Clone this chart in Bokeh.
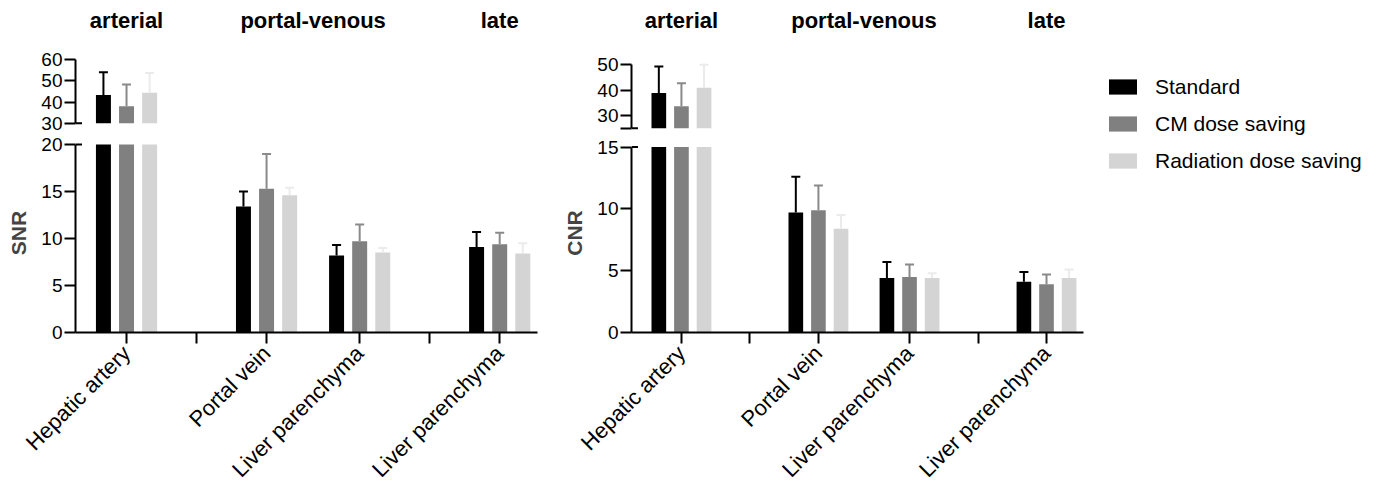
import math
from bokeh.plotting import figure
from bokeh.models import Range1d, FixedTicker, Legend, LegendItem
from bokeh.layouts import row, column
from bokeh.embed import file_html
from bokeh.resources import INLINE
from bokeh.core.properties import value

# ---------------- data ----------------
categories = ["Hepatic artery", "Portal vein", "Liver parenchyma", "Liver parenchyma"]
phases = ["arterial", "portal-venous", "late"]
phase_of_category = [0, 1, 1, 2]
series_names = ["Standard", "CM dose saving", "Radiation dose saving"]

snr_standard = [43.4, 13.4, 8.2, 9.1]
snr_standard_sd = [10.7, 1.6, 1.1, 1.6]
snr_cm = [38.0, 15.3, 9.7, 9.4]
snr_cm_sd = [10.3, 3.7, 1.8, 1.2]
snr_radiation = [44.4, 14.6, 8.5, 8.4]
snr_radiation_sd = [9.4, 0.8, 0.5, 1.1]

cnr_standard = [38.9, 9.7, 4.4, 4.1]
cnr_standard_sd = [10.4, 2.9, 1.3, 0.8]
cnr_cm = [33.6, 9.9, 4.5, 3.9]
cnr_cm_sd = [9.1, 2.0, 1.0, 0.8]
cnr_radiation = [40.9, 8.4, 4.4, 4.4]
cnr_radiation_sd = [9.1, 1.1, 0.4, 0.7]

snr_lower_ticks = [0, 5, 10, 15, 20]
snr_upper_ticks = [30, 40, 50, 60]
cnr_lower_ticks = [0, 5, 10, 15]
cnr_upper_ticks = [25, 30, 40, 50]
cnr_unlabeled_ticks = [25]

# ---------------- layout / style ----------------
FONT = "Liberation Sans"
BAR_COLORS = ["#000000", "#808080", "#d4d4d4"]
ERR_COLORS = ["#000000", "#8a8a8a", "#ebebeb"]
CAT_POS = [0.0, 2.0, 3.33, 5.33]
SEP_POS = [1.0, 4.33]
X_START, X_END = -0.729, 5.87
OFFSETS = [-0.33, 0.0, 0.33]
BAR_W = 0.214
TOP_H = 133
BOT_H = 361
BOT_FRAME = 199


def style_yaxis(ax):
    ax.axis_line_width = 2
    ax.axis_line_color = "black"
    ax.major_tick_line_width = 2
    ax.major_tick_line_color = "black"
    ax.major_tick_out = 11
    ax.major_tick_in = 0
    ax.minor_tick_line_color = None
    ax.major_label_standoff = 2
    ax.major_label_text_font = FONT
    ax.major_label_text_font_size = "19px"
    ax.major_label_text_color = "black"


def make_panel(label, series, sds, lower_ticks, upper_ticks, lower_hi, upper_lo, upper_hi,
               lower_ppu, upper_ppu, upper_top_px, width, left, right, unlabeled=()):
    frame_w = width - left - right
    ppx = frame_w / (X_END - X_START)

    # upper (broken) segment
    t_end = upper_hi + upper_top_px / upper_ppu
    t_start = t_end - TOP_H / upper_ppu
    top = figure(width=width, height=TOP_H, x_range=Range1d(X_START, X_END),
                 y_range=Range1d(t_start, t_end), x_axis_type=None,
                 toolbar_location=None, output_backend="svg",
                 min_border_left=left, min_border_right=right,
                 min_border_top=0, min_border_bottom=0, outline_line_color=None)
    top.ygrid.grid_line_color = None
    style_yaxis(top.yaxis[0])
    top.yaxis[0].ticker = FixedTicker(ticks=upper_ticks)
    top.yaxis[0].bounds = (upper_lo, upper_hi)
    if unlabeled:
        top.yaxis[0].major_label_overrides = {t: " " for t in unlabeled}

    # lower segment
    b_end = BOT_FRAME / lower_ppu
    bot = figure(width=width, height=BOT_H, x_range=Range1d(X_START, X_END),
                 y_range=Range1d(0, b_end), toolbar_location=None, output_backend="svg",
                 min_border_left=left, min_border_right=right,
                 min_border_top=0, min_border_bottom=BOT_H - BOT_FRAME,
                 outline_line_color=None)
    bot.xgrid.grid_line_color = None
    bot.ygrid.grid_line_color = None
    ya = bot.yaxis[0]
    style_yaxis(ya)
    ya.ticker = FixedTicker(ticks=lower_ticks)
    ya.bounds = (0, lower_hi)
    ya.axis_label = label
    ya.axis_label_text_font = FONT
    ya.axis_label_text_font_style = "bold"
    ya.axis_label_text_font_size = "21px"
    ya.axis_label_standoff = 8

    xa = bot.xaxis[0]
    xa.ticker = FixedTicker(ticks=CAT_POS + SEP_POS)
    overrides = {p: c for p, c in zip(CAT_POS, categories)}
    overrides.update({p: " " for p in SEP_POS})
    xa.major_label_overrides = overrides
    xa.axis_line_width = 2
    xa.major_tick_line_width = 2
    xa.major_tick_out = 11
    xa.major_tick_in = 0
    xa.minor_tick_line_color = None
    xa.major_label_orientation = math.pi / 4
    xa.major_label_standoff = 6
    xa.major_label_text_font = FONT
    xa.major_label_text_font_size = "22px"
    xa.major_label_text_color = "black"

    segments = [(bot, 0.0, lower_hi), (top, upper_lo, upper_hi)]
    for s in range(3):
        vals, err = series[s], sds[s]
        for fig, lo, hi in segments:
            bx, bb, bt, ex, e0, e1 = [], [], [], [], [], []
            for i, v in enumerate(vals):
                x = CAT_POS[i] + OFFSETS[s]
                if v > lo:
                    bx.append(x); bb.append(lo); bt.append(min(v, hi))
                if lo < v <= hi:
                    ex.append(x); e0.append(v); e1.append(v + err[i])
            if bx:
                fig.vbar(x=bx, bottom=bb, top=bt, width=BAR_W,
                         fill_color=BAR_COLORS[s], line_color=None)
            if ex:
                fig.segment(x0=ex, y0=e0, x1=ex, y1=e1, line_color=ERR_COLORS[s], line_width=2)
                fig.scatter(x=ex, y=e1, marker="dash", size=9,
                            line_color=ERR_COLORS[s], line_width=2)

    # break caps on the y axis
    cap = 6.5 / ppx
    bot.segment(x0=[X_START], y0=[lower_hi], x1=[X_START + cap], y1=[lower_hi],
                line_color="black", line_width=2)
    top.segment(x0=[X_START], y0=[upper_lo], x1=[X_START + cap], y1=[upper_lo],
                line_color="black", line_width=2)

    # phase titles
    px, py = [], []
    for k in range(len(phases)):
        members = [CAT_POS[i] for i in range(len(categories)) if phase_of_category[i] == k]
        px.append(sum(members) / len(members))
        py.append(t_end - 20 / upper_ppu)
    top.text(x=px, y=py, text=phases, text_font=value(FONT), text_font_style="bold",
             text_font_size="22px", text_align="center", text_baseline="middle",
             text_color="black")
    return column(top, bot)


snr_panel = make_panel("SNR", [snr_standard, snr_cm, snr_radiation],
                       [snr_standard_sd, snr_cm_sd, snr_radiation_sd],
                       snr_lower_ticks, snr_upper_ticks, 20, 30, 60,
                       9.4, 2.113, 59.3, 560, 75, 23)
cnr_panel = make_panel("CNR", [cnr_standard, cnr_cm, cnr_radiation],
                       [cnr_standard_sd, cnr_cm_sd, cnr_radiation_sd],
                       cnr_lower_ticks, cnr_upper_ticks, 15, 25, 50,
                       12.36, 2.533, 64.3, 535, 68, 12, unlabeled=cnr_unlabeled_ticks)

# legend figure
leg = figure(width=280, height=TOP_H + BOT_H, x_range=Range1d(0, 1), y_range=Range1d(0, 1),
             x_axis_type=None, y_axis_type=None, toolbar_location=None,
             output_backend="svg", min_border=0, outline_line_color=None)
leg.grid.grid_line_color = None
items = []
for s, name in enumerate(series_names):
    r = leg.vbar(x=[0.5], bottom=[0], top=[0], width=0.1,
                 fill_color=BAR_COLORS[s], line_color=None)
    items.append(LegendItem(label=name, renderers=[r]))
legend = Legend(items=items, location=(10, 321), glyph_width=35, glyph_height=19,
                label_standoff=15, label_height=25, spacing=12, padding=0, margin=0,
                border_line_color=None, background_fill_alpha=0,
                label_text_font=FONT, label_text_font_size="21px", label_text_color="black")
leg.add_layout(legend)

layout = row(snr_panel, cnr_panel, leg)
open("out.html", "w").write(file_html(layout, INLINE))
